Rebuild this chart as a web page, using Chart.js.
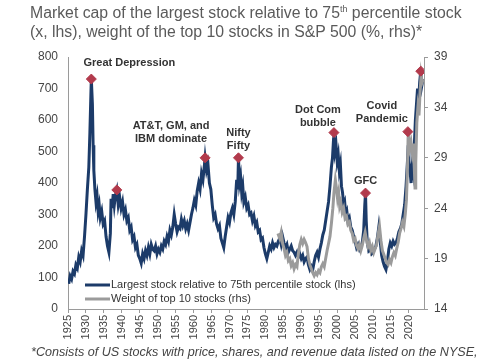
<!DOCTYPE html>
<html>
<head>
<meta charset="utf-8">
<script src="https://cdn.jsdelivr.net/npm/chart.js@4.4.0/dist/chart.umd.min.js"></script>
<style>
  body { margin: 0; background: #fff; }
  #wrap { position: relative; width: 485px; height: 360px; overflow: hidden; }
  #title { position: absolute; left: 30px; top: 3px; font: 15.8px/19px "Liberation Sans", Arial, sans-serif; color: #5a5a5a; white-space: nowrap; }
  #title sup { font-size: 9px; line-height: 0; }
  #note { position: absolute; left: 31px; top: 345px; font: italic 12.6px "Liberation Sans", Arial, sans-serif; color: #444; white-space: nowrap; }
</style>
</head>
<body>
<div id="wrap">
  <canvas id="chart" width="485" height="360"></canvas>
  <div id="title">Market cap of the largest stock relative to 75<sup>th</sup> percentile stock<br>(x, lhs), weight of the top 10 stocks in S&amp;P 500 (%, rhs)*</div>
  <div id="note">*Consists of US stocks with price, shares, and revenue data listed on the NYSE,</div>
</div>
<script>
// [year, x] largest stock relative to 75th percentile stock (lhs)
const largestRel = [
  [1925.2,80],[1925.6,105],[1926.0,95],[1926.4,120],[1926.8,112],[1927.2,140],[1927.6,130],[1928.0,165],
  [1928.4,150],[1928.8,185],[1929.2,170],[1929.6,230],[1930.0,300],[1930.4,380],[1930.8,450],[1931.1,560],
  [1931.4,690],[1931.5,730],[1931.8,650],[1932.0,520],[1932.2,440],[1932.5,380],[1932.8,340],[1933.1,360],
  [1933.4,310],[1933.7,330],[1934.0,290],[1934.4,310],[1934.8,270],[1935.2,280],[1935.6,230],[1936.0,200],
  [1936.4,180],[1936.8,240],[1937.0,350],[1937.3,320],[1937.6,365],[1937.9,330],[1938.2,360],[1938.6,378],
  [1939.0,330],[1939.4,355],[1939.8,320],[1940.2,340],[1940.6,300],[1941.0,315],[1941.4,280],[1941.8,290],
  [1942.2,250],[1942.6,260],[1943.0,220],[1943.4,230],[1943.8,195],[1944.2,205],[1944.6,170],[1945.0,160],
  [1945.4,145],[1945.8,175],[1946.2,160],[1946.6,185],[1947.0,170],[1947.4,195],[1947.8,175],[1948.2,205],
  [1948.6,190],[1949.0,185],[1949.4,200],[1949.8,175],[1950.2,190],[1950.6,180],[1951.0,200],[1951.4,190],
  [1951.8,215],[1952.2,205],[1952.6,230],[1953.0,215],[1953.4,250],[1953.8,235],[1954.2,260],[1954.6,300],
  [1955.0,270],[1955.4,245],[1955.8,260],[1956.2,255],[1956.6,285],[1957.0,265],[1957.4,280],[1957.8,255],
  [1958.2,270],[1958.6,250],[1959.0,275],[1959.4,300],[1959.8,320],[1960.2,345],[1960.6,330],[1961.0,375],
  [1961.4,400],[1961.8,380],[1962.2,430],[1962.6,410],[1963.0,455],[1963.2,480],[1963.6,440],[1964.0,460],
  [1964.4,400],[1964.8,380],[1965.2,330],[1965.6,290],[1966.0,300],[1966.4,270],[1966.8,255],[1967.2,265],
  [1967.6,225],[1968.0,210],[1968.4,195],[1968.8,230],[1969.2,260],[1969.6,290],[1970.0,275],[1970.4,305],
  [1970.8,320],[1971.2,300],[1971.6,340],[1972.0,410],[1972.3,380],[1972.5,480],[1972.8,400],[1973.1,420],
  [1973.4,370],[1973.7,390],[1974.0,340],[1974.4,355],[1974.8,320],[1975.2,330],[1975.6,300],[1976.0,305],
  [1976.4,280],[1976.8,295],[1977.2,265],[1977.6,275],[1978.0,245],[1978.4,250],[1978.8,220],[1979.2,225],
  [1979.6,195],[1980.0,175],[1980.4,160],[1980.8,180],[1981.2,200],[1981.6,190],[1982.0,210],[1982.4,195],
  [1982.8,205],[1983.2,200],[1983.6,215],[1984.0,225],[1984.4,205],[1984.8,230],[1985.2,210],[1985.6,195],
  [1986.0,205],[1986.4,180],[1986.8,190],[1987.2,200],[1987.6,185],[1988.0,180],[1988.4,170],[1988.8,180],
  [1989.2,165],[1989.6,175],[1990.0,160],[1990.4,170],[1990.8,150],[1991.2,160],[1991.6,165],[1992.0,140],
  [1992.4,125],[1992.8,135],[1993.2,125],[1993.6,150],[1994.0,170],[1994.4,180],[1994.8,165],[1995.2,190],
  [1995.6,210],[1996.0,235],[1996.4,250],[1996.8,280],[1997.2,310],[1997.6,340],[1998.0,390],[1998.4,450],
  [1998.7,480],[1999.0,540],[1999.1,560],[1999.4,500],[1999.7,520],[2000.0,470],[2000.3,490],[2000.6,440],
  [2000.9,460],[2001.2,390],[2001.5,370],[2001.8,330],[2002.1,340],[2002.4,300],[2002.7,310],[2003.0,280],
  [2003.4,290],[2003.8,260],[2004.2,250],[2004.6,230],[2005.0,215],[2005.4,195],[2005.8,205],[2006.2,190],
  [2006.6,200],[2007.0,210],[2007.4,250],[2007.7,330],[2007.9,368],[2008.1,280],[2008.4,210],[2008.8,185],
  [2009.2,190],[2009.6,175],[2010.0,180],[2010.4,190],[2010.8,200],[2011.2,225],[2011.6,260],[2012.0,215],
  [2012.4,170],[2012.8,150],[2013.2,135],[2013.6,125],[2014.0,150],[2014.4,190],[2014.8,210],[2015.2,200],
  [2015.6,215],[2016.0,205],[2016.4,210],[2016.8,225],[2017.2,245],[2017.6,255],[2018.0,270],[2018.4,300],
  [2018.8,330],[2019.2,390],[2019.6,470],[2019.8,520],[2020.0,470],[2020.3,440],[2020.6,400],[2020.9,450],
  [2021.2,430],[2021.5,520],[2021.8,600],[2022.1,650],[2022.4,700],[2022.7,660],[2023.0,720],[2023.3,755],
  [2023.6,710],[2023.9,730]
];

// [year, %] weight of top 10 stocks (rhs)
const top10Weight = [
  [1983.5,21.5],[1984.0,21.0],[1984.4,21.6],[1984.8,20.5],[1985.2,20.0],[1985.6,19.3],[1986.0,19.6],[1986.4,18.8],
  [1986.8,19.0],[1987.2,18.3],[1987.6,18.6],[1988.0,18.0],[1988.4,18.4],[1988.8,18.2],[1989.2,19.5],[1989.6,20.4],
  [1990.0,20.9],[1990.4,20.5],[1990.8,20.9],[1991.2,20.6],[1991.6,20.2],[1992.0,19.0],[1992.4,18.4],[1992.8,18.0],
  [1993.2,17.6],[1993.6,17.3],[1994.0,17.6],[1994.4,17.4],[1994.8,17.8],[1995.2,17.6],[1995.6,18.2],[1996.0,18.5],
  [1996.4,18.2],[1996.8,19.0],[1997.2,19.8],[1997.6,20.5],[1998.0,21.2],[1998.4,22.5],[1998.8,24.0],[1999.1,25.5],
  [1999.5,26.8],[1999.8,26.0],[2000.1,25.0],[2000.4,25.6],[2000.7,24.2],[2001.0,24.6],[2001.4,23.6],[2001.8,24.0],
  [2002.2,23.0],[2002.6,23.2],[2003.0,22.4],[2003.4,22.6],[2003.8,21.8],[2004.2,21.5],[2004.6,20.8],[2005.0,21.0],
  [2005.4,20.3],[2005.8,20.0],[2006.2,20.4],[2006.6,19.8],[2007.0,20.3],[2007.4,21.0],[2007.8,21.6],[2008.2,20.8],
  [2008.6,20.2],[2009.0,20.6],[2009.4,19.8],[2009.8,20.2],[2010.2,19.6],[2010.6,20.0],[2011.0,20.4],[2011.4,21.4],
  [2011.8,22.2],[2012.2,20.8],[2012.6,19.8],[2013.0,19.4],[2013.4,19.0],[2013.8,18.6],[2014.2,18.4],[2014.6,18.9],
  [2015.0,18.6],[2015.4,19.2],[2015.8,19.6],[2016.2,19.3],[2016.6,20.0],[2017.0,20.6],[2017.4,21.5],[2017.8,22.0],
  [2018.2,22.6],[2018.6,22.2],[2019.0,23.5],[2019.3,24.8],[2019.6,28.0],[2019.8,31.5],[2020.0,31.0],[2020.3,30.0],
  [2020.6,30.5],[2020.9,29.6],[2021.2,30.4],[2021.5,28.0],[2021.7,26.0],[2021.9,28.5],[2022.2,32.5],[2022.5,34.0],
  [2022.8,33.2],[2023.1,35.5],[2023.4,37.2],[2023.7,36.5],[2024.0,36.8]
];

// peak markers (lhs scale) and their labels
const peakYears  = [1931.5, 1938.6, 1963.2, 1972.5, 1999.1, 2007.9, 2019.7, 2023.3];
const peakValues = [730, 378, 480, 480, 560, 368, 563, 755];
const peakLabels = [['Great Depression'], [], ['AT&T, GM, and', 'IBM dominate'], ['Nifty', 'Fifty'],
                    ['Dot Com', 'bubble'], ['GFC'], ['Covid', 'Pandemic'], []];
const labelShift = [[38, -16], [0, 0], [-34, -19], [0, -12], [-16, -10], [0, -12], [-26, -13], [0, 0]];

const lhsTicks = [0, 800, 100];
const rhsTicks = [14, 39, 5];

const navy = '#1c3b69', grey = '#9b9b9b', red = '#b23a4c', axisCol = '#9a9a9a';
const tickFont = { family: 'Liberation Sans, Arial, sans-serif', size: 12 };

const peakText = {
  id: 'peakText',
  afterDatasetsDraw(chart) {
    const { ctx, scales } = chart;
    ctx.save();
    ctx.font = 'bold 11px "Liberation Sans", Arial, sans-serif';
    ctx.fillStyle = '#333';
    ctx.textAlign = 'center';
    ctx.textBaseline = 'middle';
    peakLabels.forEach((lines, i) => {
      if (!lines.length) return;
      const px = scales.x.getPixelForValue(peakYears[i]) + labelShift[i][0];
      const py = scales.y.getPixelForValue(peakValues[i]) + labelShift[i][1];
      lines.forEach((t, k) => ctx.fillText(t, px, py - (lines.length - 1 - k) * 12.5));
    });
    ctx.restore();
  }
};

// legend sits inside the plot, bottom left
const innerLegend = {
  id: 'innerLegend',
  afterDatasetsDraw(chart) {
    const { ctx } = chart;
    const ds = chart.data.datasets.filter(d => d.label);
    ctx.save();
    ctx.font = '11px "Liberation Sans", Arial, sans-serif';
    ctx.textBaseline = 'middle';
    ds.forEach((d, i) => {
      const y = 285 + i * 14;
      ctx.strokeStyle = d.borderColor;
      ctx.lineWidth = 3;
      ctx.beginPath();
      ctx.moveTo(85, y);
      ctx.lineTo(110, y);
      ctx.stroke();
      ctx.fillStyle = '#333';
      ctx.fillText(d.label, 111, y);
    });
    ctx.restore();
  }
};

new Chart(document.getElementById('chart'), {
  type: 'line',
  data: {
    datasets: [
      {
        data: peakYears.map((x, i) => ({ x, y: peakValues[i] })),
        yAxisID: 'y', showLine: false, pointStyle: 'rectRot', pointRadius: 5,
        pointBackgroundColor: red, pointBorderColor: red, order: 0
      },
      {
        label: 'Largest stock relative to 75th percentile stock (lhs)',
        data: largestRel.map(p => ({ x: p[0], y: p[1] })),
        yAxisID: 'y', borderColor: navy, borderWidth: 3, pointRadius: 0,
        tension: 0, order: 2
      },
      {
        label: 'Weight of top 10 stocks (rhs)',
        data: top10Weight.map(p => ({ x: p[0], y: p[1] })),
        yAxisID: 'y1', borderColor: grey, borderWidth: 3, pointRadius: 0,
        tension: 0, order: 1
      }
    ]
  },
  options: {
    responsive: false,
    animation: false,
    layout: { padding: { top: 57, left: 0, right: 0, bottom: 0 } },
    plugins: { legend: { display: false }, tooltip: { enabled: false } },
    scales: {
      x: {
        type: 'linear', min: 1925, max: 2024.2,
        afterFit: s => { s.height = 51; },
        afterBuildTicks: s => { s.ticks = []; for (let y = 1925; y <= 2020; y += 5) s.ticks.push({ value: y }); },
        ticks: { color: '#444', font: { family: tickFont.family, size: 11 }, minRotation: 90, maxRotation: 90, padding: 2,
                 callback: v => String(v) },
        grid: { drawOnChartArea: false, color: axisCol, tickLength: 4 },
        border: { color: axisCol }
      },
      y: {
        position: 'left', min: lhsTicks[0], max: lhsTicks[1],
        afterFit: s => { s.width = 68; },
        ticks: { stepSize: lhsTicks[2], color: '#444', font: tickFont, padding: 10 },
        grid: { drawOnChartArea: false, drawTicks: false },
        border: { color: axisCol }
      },
      y1: {
        position: 'right', min: rhsTicks[0], max: rhsTicks[1],
        afterFit: s => { s.width = 61; },
        ticks: { stepSize: rhsTicks[2], color: '#444', font: tickFont, padding: 6 },
        grid: { drawOnChartArea: false, color: axisCol, tickLength: 4 },
        border: { color: axisCol }
      }
    }
  },
  plugins: [peakText, innerLegend]
});
</script>
</body>
</html>
